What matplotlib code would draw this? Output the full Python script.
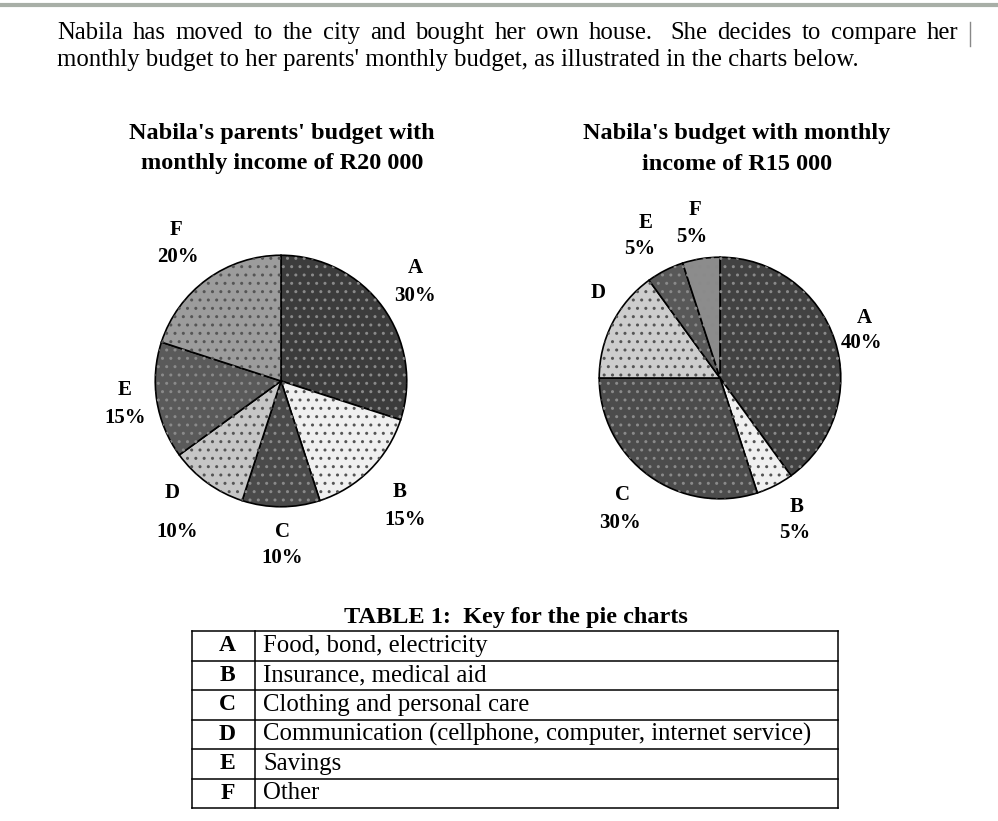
import matplotlib.pyplot as plt
from matplotlib.lines import Line2D

plt.rcParams['font.family'] = ['Liberation Serif', 'DejaVu Serif']

W, H = 998, 821

# budget data
keys = ['A', 'B', 'C', 'D', 'E', 'F']
parents_pct = [30, 15, 10, 10, 15, 20]
nabila_pct = [40, 5, 30, 15, 5, 5]
parents_colors = ['#3c3c3c', '#f0f0f0', '#4a4a4a', '#c6c6c6', '#5a5a5a', '#9c9c9c']
nabila_colors = ['#424242', '#f0f0f0', '#4c4c4c', '#cdcdcd', '#585858', '#8c8c8c']
key_text = ['Food, bond, electricity', 'Insurance, medical aid',
            'Clothing and personal care',
            'Communication (cellphone, computer, internet service)',
            'Savings', 'Other']

intro = ["Nabila has moved to the city and bought her own house.  She decides to compare her",
         "monthly budget to her parents' monthly budget, as illustrated in the charts below."]


def fx(x):
    return x / W


def fy(y):
    return 1 - y / H


def pie_axes(cx, cy, r):
    return fig.add_axes([fx(cx - r), fy(cy + r), 2 * r / W, 2 * r / H])


def draw_pie(ax, vals, cols):
    ax.pie(vals, colors=cols, startangle=90, counterclock=False,
           wedgeprops=dict(edgecolor='black', linewidth=1.2))
    # dotted texture like the scanned print
    over, _ = ax.pie(vals, startangle=90, counterclock=False,
                     wedgeprops=dict(fill=False, linewidth=0))
    for w, c in zip(over, cols):
        light = int(c[1:3], 16) > 150
        w.set_hatch('..')
        w.set_edgecolor('#555555' if light else '#8a8a8a')
    ax.set_xlim(-1.01, 1.01)
    ax.set_ylim(-1.01, 1.01)
    ax.set_aspect('equal')
    ax.axis('off')


def justified(line, x0, x1, y, size):
    # spread the words of one line between x0 and x1 (px); sentence ends get a wider gap
    words = line.split()
    rend = fig.canvas.get_renderer()
    arts, total = [], 0
    for w in words:
        t = fig.text(fx(x0), fy(y), w, fontsize=size, va='center', ha='left')
        total += t.get_window_extent(rend).width
        arts.append(t)
    weights = [1.8 if w.endswith('.') else 1.0 for w in words[:-1]]
    gap = (x1 - x0 - total) / sum(weights)
    x = x0
    for i, t in enumerate(arts):
        t.set_x(fx(x))
        if i < len(weights):
            x += t.get_window_extent(rend).width + gap * weights[i]


fig = plt.figure(figsize=(W / 100, H / 100), dpi=100)
plt.rcParams['hatch.linewidth'] = 1.0

# scan edge at the top
fig.add_artist(Line2D([0, 1], [fy(5), fy(5)], color='#6f7a6c', lw=3, alpha=0.6))
fig.add_artist(Line2D([fx(970), fx(970)], [fy(22), fy(46)], color='#888888', lw=1))

justified(intro[0], 57, 958, 33, 17.8)
fig.text(fx(57), fy(60), intro[1], fontsize=17.8, va='center', ha='left')

# titles
tsize = 17.5
fig.text(fx(282), fy(133), "Nabila's parents' budget with", fontsize=tsize,
         fontweight='bold', ha='center', va='center')
fig.text(fx(282), fy(164), "monthly income of R20 000", fontsize=tsize,
         fontweight='bold', ha='center', va='center')
fig.text(fx(737), fy(133), "Nabila's budget with monthly", fontsize=tsize,
         fontweight='bold', ha='center', va='center')
fig.text(fx(737), fy(164), "income of R15 000", fontsize=tsize,
         fontweight='bold', ha='center', va='center')

ax1 = pie_axes(281, 381, 127)
draw_pie(ax1, parents_pct, parents_colors)
ax2 = pie_axes(720, 378, 122)
draw_pie(ax2, nabila_pct, nabila_colors)

# slice labels (letter above, percent below)
lsize = 15
left_lbl = {'A': (415, 268), 'B': (400, 492), 'C': (282, 532),
            'D': (172, 493), 'E': (125, 390), 'F': (176, 230)}
right_lbl = {'A': (864, 318), 'B': (797, 507), 'C': (622, 495),
             'D': (598, 293), 'E': (646, 223), 'F': (695, 210)}
pct_off = {'A': 28, 'B': 28, 'C': 26, 'D': 39, 'E': 28, 'F': 27}
pct_dx = {'A': 0, 'B': 5, 'C': 0, 'D': 5, 'E': 0, 'F': 2}

for k, v in zip(keys, parents_pct):
    x, y = left_lbl[k]
    fig.text(fx(x), fy(y), k, fontsize=lsize, fontweight='bold', ha='center', va='center')
    fig.text(fx(x + pct_dx[k]), fy(y + pct_off[k]), f'{v}%', fontsize=lsize,
             fontweight='bold', ha='center', va='center')

r_off = {'A': 25, 'B': 26, 'C': 28, 'E': 26, 'F': 27}
r_dx = {'A': -2, 'B': -2, 'C': -2, 'E': -6, 'F': -3}
for k, v in zip(keys, nabila_pct):
    x, y = right_lbl[k]
    fig.text(fx(x), fy(y), k, fontsize=lsize, fontweight='bold', ha='center', va='center')
    if k == 'D':
        continue
    fig.text(fx(x + r_dx[k]), fy(y + r_off[k]), f'{v}%', fontsize=lsize,
             fontweight='bold', ha='center', va='center')

# key table
fig.text(fx(516), fy(617), 'TABLE 1:  Key for the pie charts', fontsize=17.5,
         fontweight='bold', ha='center', va='center')
tx0, tx1, tdiv = 192, 838, 255
ty0, row_h = 631, 29.5
n = len(keys)
for i in range(n + 1):
    y = ty0 + i * row_h
    fig.add_artist(Line2D([fx(tx0), fx(tx1)], [fy(y), fy(y)], color='black', lw=1.1))
for x in (tx0, tdiv, tx1):
    fig.add_artist(Line2D([fx(x), fx(x)], [fy(ty0), fy(ty0 + n * row_h)],
                          color='black', lw=1.1))
for i, (k, t) in enumerate(zip(keys, key_text)):
    yc = ty0 + (i + 0.5) * row_h
    fig.text(fx((tx0 + tdiv) / 2 + 4), fy(yc), k, fontsize=17, fontweight='bold',
             ha='center', va='center')
    fig.text(fx(tdiv + 8), fy(yc), t, fontsize=17.8, ha='left', va='center')

fig.savefig('out.png', dpi=100, facecolor='white')
